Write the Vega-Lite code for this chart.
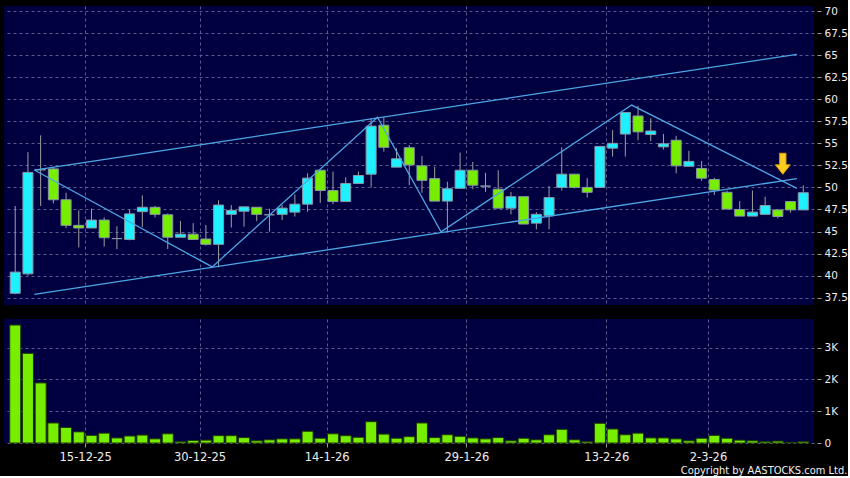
{
  "$schema": "https://vega.github.io/schema/vega-lite/v6.json",
  "background": "#000000",
  "padding": {"left": 4, "top": 6, "right": 0, "bottom": 0},
  "config": {
    "view": {"fill": "#000040", "stroke": null},
    "font": "DejaVu Sans",
    "axis": {"gridColor": "#5c5c8c", "gridDash": [3, 3], "gridWidth": 1, "labelColor": "#eeeeee", "labelFont": "DejaVu Sans", "labelFontSize": 10.5, "tickColor": "#9a9a9a", "domain": false, "title": null, "labelOverlap": false}
  },
  "datasets": {
    "candles": [
      {"i":0,"d":"8-12-25","o":38.0,"h":47.9,"l":37.9,"c":40.4,"v":3710},
      {"i":1,"d":"9-12-25","o":40.2,"h":54.0,"l":40.0,"c":51.7,"v":2820},
      {"i":2,"d":"10-12-25","o":52.0,"h":55.9,"l":47.9,"c":52.0,"v":1890},
      {"i":3,"d":"11-12-25","o":52.1,"h":52.3,"l":48.2,"c":48.6,"v":630},
      {"i":4,"d":"12-12-25","o":48.6,"h":49.4,"l":45.4,"c":45.7,"v":490},
      {"i":5,"d":"15-12-25","o":45.7,"h":47.4,"l":43.2,"c":45.4,"v":350},
      {"i":6,"d":"16-12-25","o":45.4,"h":47.6,"l":45.4,"c":46.3,"v":240},
      {"i":7,"d":"17-12-25","o":46.3,"h":46.6,"l":43.3,"c":44.3,"v":310},
      {"i":8,"d":"18-12-25","o":44.2,"h":45.6,"l":43.0,"c":44.2,"v":160},
      {"i":9,"d":"19-12-25","o":44.1,"h":47.5,"l":44.0,"c":47.0,"v":220},
      {"i":10,"d":"22-12-25","o":47.25,"h":49.1,"l":45.5,"c":47.75,"v":250},
      {"i":11,"d":"23-12-25","o":47.75,"h":47.9,"l":46.6,"c":46.95,"v":130},
      {"i":12,"d":"24-12-25","o":46.9,"h":47.05,"l":43.0,"c":44.35,"v":290},
      {"i":13,"d":"29-12-25","o":44.35,"h":46.2,"l":44.35,"c":44.7,"v":40},
      {"i":14,"d":"30-12-25","o":44.7,"h":45.95,"l":44.1,"c":44.1,"v":80},
      {"i":15,"d":"31-12-25","o":44.15,"h":45.75,"l":43.4,"c":43.55,"v":90},
      {"i":16,"d":"2-1-26","o":43.55,"h":48.55,"l":40.95,"c":48.0,"v":230},
      {"i":17,"d":"5-1-26","o":46.95,"h":48.0,"l":45.45,"c":47.4,"v":230},
      {"i":18,"d":"6-1-26","o":47.3,"h":47.8,"l":45.55,"c":47.8,"v":170},
      {"i":19,"d":"7-1-26","o":47.75,"h":47.75,"l":46.2,"c":46.95,"v":70},
      {"i":20,"d":"8-1-26","o":46.9,"h":47.6,"l":45.0,"c":46.9,"v":100},
      {"i":21,"d":"9-1-26","o":46.95,"h":48.0,"l":46.3,"c":47.65,"v":130},
      {"i":22,"d":"12-1-26","o":47.2,"h":49.2,"l":46.7,"c":48.1,"v":130},
      {"i":23,"d":"13-1-26","o":48.1,"h":51.6,"l":47.25,"c":51.05,"v":370},
      {"i":24,"d":"14-1-26","o":51.95,"h":51.95,"l":48.25,"c":49.65,"v":150},
      {"i":25,"d":"15-1-26","o":49.65,"h":51.8,"l":48.1,"c":48.4,"v":290},
      {"i":26,"d":"16-1-26","o":48.4,"h":51.15,"l":48.4,"c":50.45,"v":230},
      {"i":27,"d":"19-1-26","o":50.45,"h":51.8,"l":50.45,"c":51.35,"v":180},
      {"i":28,"d":"20-1-26","o":51.5,"h":57.85,"l":50.0,"c":56.95,"v":670},
      {"i":29,"d":"21-1-26","o":57.05,"h":57.95,"l":54.05,"c":54.55,"v":280},
      {"i":30,"d":"22-1-26","o":52.3,"h":54.45,"l":52.3,"c":53.25,"v":150},
      {"i":31,"d":"23-1-26","o":54.5,"h":54.8,"l":50.25,"c":52.55,"v":200},
      {"i":32,"d":"26-1-26","o":52.45,"h":53.55,"l":49.4,"c":50.8,"v":630},
      {"i":33,"d":"27-1-26","o":51.0,"h":52.35,"l":48.45,"c":48.45,"v":170},
      {"i":34,"d":"28-1-26","o":48.45,"h":50.65,"l":45.0,"c":49.85,"v":260},
      {"i":35,"d":"29-1-26","o":49.9,"h":53.95,"l":49.9,"c":51.95,"v":210},
      {"i":36,"d":"30-1-26","o":51.95,"h":52.9,"l":49.8,"c":50.25,"v":160},
      {"i":37,"d":"2-2-26","o":50.15,"h":51.65,"l":49.5,"c":50.15,"v":130},
      {"i":38,"d":"3-2-26","o":49.8,"h":51.95,"l":47.65,"c":47.65,"v":170},
      {"i":39,"d":"4-2-26","o":47.65,"h":49.5,"l":46.95,"c":48.95,"v":70},
      {"i":40,"d":"5-2-26","o":48.95,"h":48.95,"l":45.85,"c":45.85,"v":150},
      {"i":41,"d":"6-2-26","o":45.95,"h":47.2,"l":45.25,"c":46.95,"v":100},
      {"i":42,"d":"9-2-26","o":46.8,"h":50.15,"l":45.25,"c":48.85,"v":260},
      {"i":43,"d":"10-2-26","o":50.0,"h":54.55,"l":49.65,"c":51.5,"v":430},
      {"i":44,"d":"11-2-26","o":51.5,"h":51.5,"l":49.9,"c":50.0,"v":100},
      {"i":45,"d":"12-2-26","o":50.0,"h":51.05,"l":48.85,"c":49.45,"v":40},
      {"i":46,"d":"13-2-26","o":50.0,"h":54.65,"l":50.0,"c":54.65,"v":620},
      {"i":47,"d":"16-2-26","o":54.45,"h":56.5,"l":53.5,"c":55.0,"v":440},
      {"i":48,"d":"20-2-26","o":56.05,"h":58.5,"l":53.5,"c":58.5,"v":260},
      {"i":49,"d":"23-2-26","o":58.1,"h":59.25,"l":55.35,"c":56.3,"v":310},
      {"i":50,"d":"24-2-26","o":56.0,"h":57.85,"l":55.25,"c":56.4,"v":160},
      {"i":51,"d":"25-2-26","o":54.6,"h":56.05,"l":54.3,"c":54.95,"v":160},
      {"i":52,"d":"26-2-26","o":55.35,"h":55.85,"l":51.6,"c":52.45,"v":130},
      {"i":53,"d":"27-2-26","o":52.4,"h":54.15,"l":52.4,"c":52.95,"v":70},
      {"i":54,"d":"2-3-26","o":52.15,"h":53.0,"l":50.75,"c":51.05,"v":150},
      {"i":55,"d":"3-3-26","o":50.9,"h":51.1,"l":49.15,"c":49.7,"v":240},
      {"i":56,"d":"4-3-26","o":49.45,"h":49.65,"l":47.55,"c":47.55,"v":150},
      {"i":57,"d":"5-3-26","o":47.5,"h":48.45,"l":46.75,"c":46.75,"v":90},
      {"i":58,"d":"6-3-26","o":46.75,"h":49.65,"l":46.75,"c":47.2,"v":70},
      {"i":59,"d":"9-3-26","o":46.95,"h":48.95,"l":46.95,"c":47.95,"v":40},
      {"i":60,"d":"10-3-26","o":47.45,"h":47.45,"l":46.5,"c":46.7,"v":60},
      {"i":61,"d":"11-3-26","o":48.4,"h":48.4,"l":47.15,"c":47.45,"v":20},
      {"i":62,"d":"12-3-26","o":47.45,"h":50.25,"l":47.45,"c":49.4,"v":40}
    ],
    "lines": [
      {"g":"upper","i":1.5,"p":51.97},
      {"g":"upper","i":61.5,"p":65.09},
      {"g":"lower","i":1.5,"p":37.88},
      {"g":"lower","i":61.5,"p":50.99},
      {"g":"zigzag","i":1.5,"p":51.97},
      {"g":"zigzag","i":15.5,"p":40.99},
      {"g":"zigzag","i":28.5,"p":57.95},
      {"g":"zigzag","i":33.5,"p":44.98},
      {"g":"zigzag","i":48.5,"p":59.34},
      {"g":"zigzag","i":61.5,"p":49.9}
    ],
    "arrow": [{"i":60.39,"p":52.68}]
  },
  "spacing": 14,
  "title": {"text": "Copyright by AASTOCKS.com Ltd.", "orient": "bottom", "anchor": "end", "color": "#f2f2f2", "font": "DejaVu Sans Condensed", "fontSize": 11, "fontWeight": "normal", "offset": 2},
  "vconcat": [
    {
      "width": 810,
      "height": 299,
      "layer": [
        {
          "data": {"name": "candles"},
          "mark": {"type": "rule", "color": "#a0a0a0", "strokeWidth": 1},
          "encoding": {
            "x": {"field": "i", "type": "quantitative", "title": null, "scale": {"domain": [-0.49, 62.45], "nice": false, "zero": false},
                  "axis": {"values": [5.5, 14.5, 24.5, 35.5, 46.5, 54.5], "labels": false, "ticks": false, "grid": true}},
            "y": {"field": "l", "type": "quantitative", "title": null, "scale": {"domain": [36.67, 70.57], "nice": false, "zero": false},
                  "axis": {"orient": "right", "values": [37.5, 40, 42.5, 45, 47.5, 50, 52.5, 55, 57.5, 60, 62.5, 65, 67.5, 70], "labelExpr": "datum.value + ''", "labelOverlap": false, "labelBound": false, "labelSeparation": 0, "grid": true, "tickSize": 4, "offset": 3, "labelPadding": 3}},
            "y2": {"field": "h"}
          }
        },
        {
          "data": {"name": "candles"},
          "mark": {"type": "bar", "width": 10, "stroke": "#8a98a6", "strokeWidth": 1},
          "encoding": {
            "x": {"field": "i", "type": "quantitative", "title": null,
                  "axis": {"values": [5.5, 14.5, 24.5, 35.5, 46.5, 54.5], "labels": false, "ticks": false, "grid": true}},
            "y": {"field": "o", "type": "quantitative", "title": null,
                  "axis": {"orient": "right", "values": [37.5, 40, 42.5, 45, 47.5, 50, 52.5, 55, 57.5, 60, 62.5, 65, 67.5, 70], "labelExpr": "datum.value + ''", "labelOverlap": false, "labelBound": false, "labelSeparation": 0, "grid": true, "tickSize": 4, "offset": 3, "labelPadding": 3}},
            "y2": {"field": "c"},
            "fill": {"condition": [{"test": "datum.c > datum.o", "value": "#1ef0ff"}, {"test": "datum.c < datum.o", "value": "#77ee00"}], "value": "#9a9a9a"}
          }
        },
        {
          "data": {"name": "lines"},
          "mark": {"type": "line", "color": "#4ea6e4", "strokeWidth": 1.3},
          "encoding": {
            "x": {"field": "i", "type": "quantitative", "title": null,
                  "axis": {"values": [5.5, 14.5, 24.5, 35.5, 46.5, 54.5], "labels": false, "ticks": false, "grid": true}},
            "y": {"field": "p", "type": "quantitative", "title": null,
                  "axis": {"orient": "right", "values": [37.5, 40, 42.5, 45, 47.5, 50, 52.5, 55, 57.5, 60, 62.5, 65, 67.5, 70], "labelExpr": "datum.value + ''", "labelOverlap": false, "labelBound": false, "labelSeparation": 0, "grid": true, "tickSize": 4, "offset": 3, "labelPadding": 3}},
            "detail": {"field": "g"}
          }
        },
        {
          "data": {"name": "arrow"},
          "mark": {"type": "point", "shape": "M-0.3,-1L0.3,-1L0.3,0.1L0.71,0.1L0,1L-0.71,0.1L-0.3,0.1Z", "size": 441, "filled": true, "fill": "#fbcc22", "stroke": "#dca000", "strokeWidth": 1, "opacity": 1},
          "encoding": {
            "x": {"field": "i", "type": "quantitative", "title": null,
                  "axis": {"values": [5.5, 14.5, 24.5, 35.5, 46.5, 54.5], "labels": false, "ticks": false, "grid": true}},
            "y": {"field": "p", "type": "quantitative", "title": null,
                  "axis": {"orient": "right", "values": [37.5, 40, 42.5, 45, 47.5, 50, 52.5, 55, 57.5, 60, 62.5, 65, 67.5, 70], "labelExpr": "datum.value + ''", "labelOverlap": false, "labelBound": false, "labelSeparation": 0, "grid": true, "tickSize": 4, "offset": 3, "labelPadding": 3}}
          }
        }
      ]
    },
    {
      "width": 810,
      "height": 124,
      "data": {"name": "candles"},
      "mark": {"type": "bar", "width": 11, "fill": "#77ee00", "stroke": "#1c3a00", "strokeWidth": 1},
      "encoding": {
        "x": {"field": "i", "type": "quantitative", "title": null, "scale": {"domain": [-0.49, 62.45], "nice": false, "zero": false},
              "axis": {"values": [5.5, 14.5, 24.5, 35.5, 46.5, 54.5], "grid": true, "tickSize": 4, "labelPadding": 4, "labelFontSize": 11.5, "labelDx": -3, "labelOverlap": false,
                       "labelExpr": "datum.value == 5.5 ? '15-12-25' : datum.value == 14.5 ? '30-12-25' : datum.value == 24.5 ? '14-1-26' : datum.value == 35.5 ? '29-1-26' : datum.value == 46.5 ? '13-2-26' : '2-3-26'"}},
        "y": {"field": "v", "type": "quantitative", "title": null, "scale": {"domain": [0, 3900], "nice": false},
              "axis": {"orient": "right", "values": [0, 1000, 2000, 3000], "grid": true, "tickSize": 4, "offset": 3, "labelPadding": 3, "labelOverlap": false,
                       "labelExpr": "datum.value == 0 ? '0' : (datum.value / 1000) + 'K'"}}
      }
    }
  ]
}
